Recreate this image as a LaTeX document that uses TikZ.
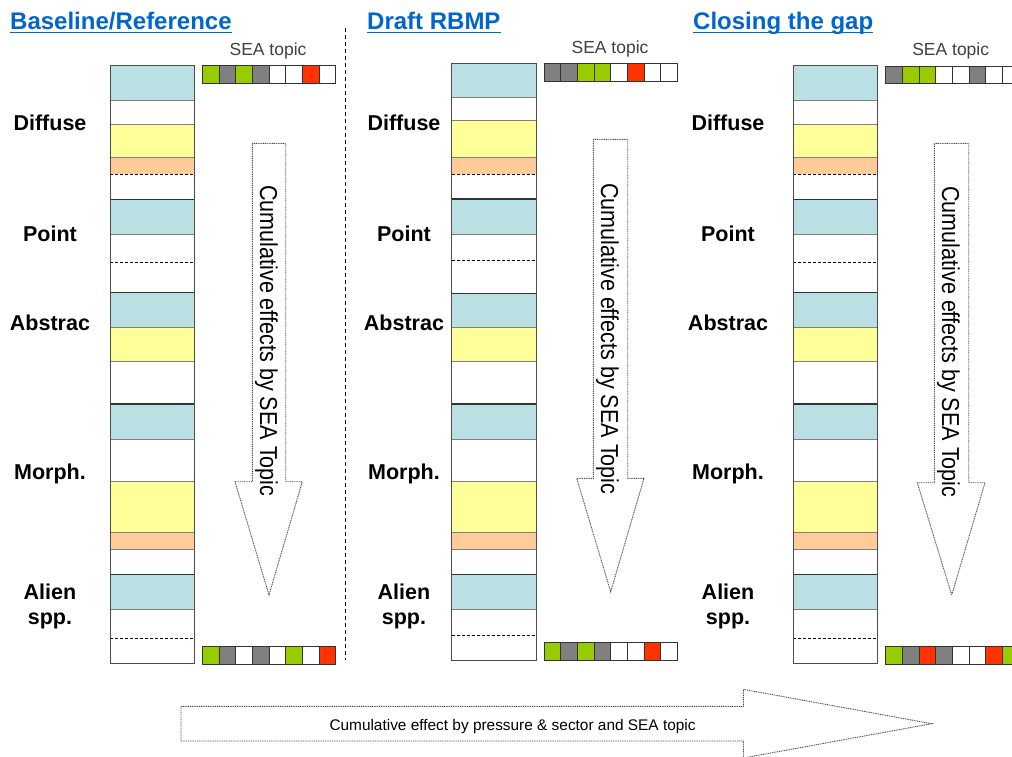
\documentclass[tikz,border=0pt]{standalone}
\usepackage{graphicx}
\usepackage{fontspec}
\setmainfont{Liberation Sans}
\definecolor{blu}{RGB}{187,224,227}
\definecolor{yel}{RGB}{255,255,153}
\definecolor{org}{RGB}{255,204,153}
\definecolor{grn}{RGB}{153,204,0}
\definecolor{gry}{RGB}{128,128,128}
\definecolor{rd}{RGB}{255,51,0}
\definecolor{wht}{RGB}{255,255,255}
\definecolor{ttl}{RGB}{0,102,204}
\tikzset{
  ttlstyle/.style={anchor=base west, inner sep=0pt, text=ttl, font=\fontsize{24pt}{28pt}\selectfont\bfseries},
  rowlab/.style={anchor=base, inner sep=0pt, font=\fontsize{21.5pt}{26pt}\selectfont\bfseries},
  sealab/.style={anchor=base, inner sep=0pt, text=black!75, font=\fontsize{17.5pt}{21pt}\selectfont},
  cumtext/.style={anchor=base west, rotate=-90, inner sep=0pt, font=\fontsize{24.5pt}{28pt}\selectfont},
  bottext/.style={anchor=base west, inner sep=0pt, font=\fontsize{15.4pt}{18pt}\selectfont},
  arrowbox/.style={fill=white, draw=black!70, line width=0.9pt, dash pattern=on 1pt off 0.8pt},
  sq/.style={draw=black!80, line width=0.9pt},
  glin/.style={draw=black!50, line width=0.8pt},
  dlin/.style={draw=black!80, line width=1.3pt},
  dshlin/.style={draw=black, line width=0.8pt, dash pattern=on 3pt off 2pt},
  colout/.style={draw=black!70, line width=1pt},
  sepline/.style={draw=black, line width=1pt, dash pattern=on 4pt off 3pt},
}
\newcommand\sqrow[4]{%
  \foreach \c [count=\i from 0] in {#4} {%
    \filldraw[sq, fill=\c] ({#1+\i*16.67},#2) rectangle ({#1+(\i+1)*16.67},#3);}}
\newcommand\colpanel[8]{%
  \foreach \t/\b/\c in {#3} {\fill[\c] (#1,\t) rectangle (#2,\b);}
  \foreach \yy in {#4} {\draw[glin] (#1,\yy) -- (#2,\yy);}
  \foreach \yy in {#5} {\draw[dshlin] (#1,\yy) -- (#2,\yy);}
  \foreach \yy in {#6} {\draw[dlin] (#1,\yy) -- (#2,\yy);}
  \draw[colout] (#1,#7) rectangle (#2,#8);}
\newcommand\downarr[8]{%
  \draw[arrowbox] (#1,#3) -- (#2,#3) -- (#2,#4) -- (#6,#4) -- (#7,#8) -- (#5,#4) -- (#1,#4) -- cycle;}
\begin{document}
\begin{tikzpicture}[x=1pt,y=-1pt]
\useasboundingbox (0,0) rectangle (1012,756);
\fill[white] (0,0) rectangle (1012,756);

% titles
\node[ttlstyle] (tA) at (10,29.3) {Baseline/Reference};
\node[ttlstyle] (tB) at (367,29.3) {Draft RBMP};
\node[ttlstyle] (tC) at (693,29.3) {Closing the gap};
\foreach \n in {tA,tB,tC}
  \draw[ttl, line width=1.4pt] ([yshift=-3.4pt]\n.base west) -- ([yshift=-3.4pt]\n.base east);

% separator
\draw[sepline] (345,28) -- (345,660);

% row labels
\foreach \px/\p in {50/A,404/B,728/C} {
  \node[rowlab] (dif\p) at (\px,130) {Diffuse};
  \node[rowlab] (pnt\p) at (\px,241.5) {Point};
  \node[rowlab] (abs\p) at (\px,330.5) {Abstrac};
  \node[rowlab] (mor\p) at (\px,479.5) {Morph.};
  \node[rowlab] (ali\p) at (\px,599.5) {Alien};
  \node[rowlab] (spp\p) at (\px,624) {spp.};
}

% columns
\colpanel{110}{194.7}
  {65.7/100.7/blu, 124/157.3/yel, 157.3/174.3/org, 199.3/234.3/blu, 292.7/327.7/blu, 327.7/361.3/yel, 404/439/blu, 481.7/532.3/yel, 532.3/549.7/org, 574.3/609.3/blu}
  {100.7,124,157.3,234.3,327.7,361.3,439,481.7,532.3,549.7,609.3}
  {174.3,262,638.3}
  {199.3,292.7,404,574.3}
  {65.7}{663.3}
\colpanel{451.7}{536}
  {63.3/97.7/blu, 120/157.3/yel, 157.3/174.3/org, 199/234.3/blu, 293.3/327.7/blu, 327.7/361.3/yel, 404/439/blu, 481.7/532.3/yel, 532.3/549.3/org, 574.3/609.3/blu}
  {97.7,120,157.3,234.3,327.7,361.3,439,481.7,532.3,549.3,609.3}
  {174.3,260,635}
  {199,293.3,404,574.3}
  {63.3}{660}
\colpanel{793.3}{877.7}
  {65.7/100.7/blu, 124/157.3/yel, 157.3/174.3/org, 199.3/234.3/blu, 292.7/327.7/blu, 327.7/361.3/yel, 404/439/blu, 481.7/532.3/yel, 532.3/549.7/org, 574.3/609.3/blu}
  {100.7,124,157.3,234.3,327.7,361.3,439,481.7,532.3,549.7,609.3}
  {174.3,262,638.3}
  {199.3,292.7,404,574.3}
  {65.7}{663.3}

% SEA topic labels
\node[sealab] (seaA) at (268,55) {SEA topic};
\node[sealab] (seaB) at (610,53) {SEA topic};
\node[sealab] (seaC) at (950.7,55) {SEA topic};

% SEA topic squares
\sqrow{202.3}{65.7}{83.7}{grn,gry,grn,gry,wht,wht,rd,wht}
\sqrow{202.3}{646}{664}{grn,gry,wht,gry,wht,grn,wht,rd}
\sqrow{544}{63.3}{81.7}{gry,gry,grn,grn,wht,rd,wht,wht}
\sqrow{544}{642.7}{660.7}{grn,gry,grn,gry,wht,wht,rd,wht}
\sqrow{885.7}{66}{83.3}{gry,grn,grn,wht,wht,gry,wht,wht}
\sqrow{885.7}{646}{664}{grn,gry,rd,gry,wht,wht,rd,grn}

% down arrows
\downarr{252.3}{285.7}{143.3}{481.7}{235}{302.3}{269}{595}
\downarr{593.3}{627.7}{139.3}{478.3}{576.7}{644}{610.7}{591.7}
\downarr{934.3}{968.7}{143.3}{482.7}{917.3}{985}{951.7}{595}
\node[cumtext] (cumA) at (260,185) {\scalebox{0.88}[1]{Cumulative effects by SEA Topic}};
\node[cumtext] (cumB) at (601,183) {\scalebox{0.88}[1]{Cumulative effects by SEA Topic}};
\node[cumtext] (cumC) at (942,186) {\scalebox{0.88}[1]{Cumulative effects by SEA Topic}};

% bottom arrow
\draw[arrowbox] (181,706.3) -- (743.3,706.3) -- (743.3,689.3) -- (931.7,723.7) -- (743.3,758) -- (743.3,741) -- (181,741) -- cycle;
\node[bottext] (cumBot) at (329.3,730) {Cumulative effect by pressure \& sector and SEA topic};
\end{tikzpicture}
\end{document}
